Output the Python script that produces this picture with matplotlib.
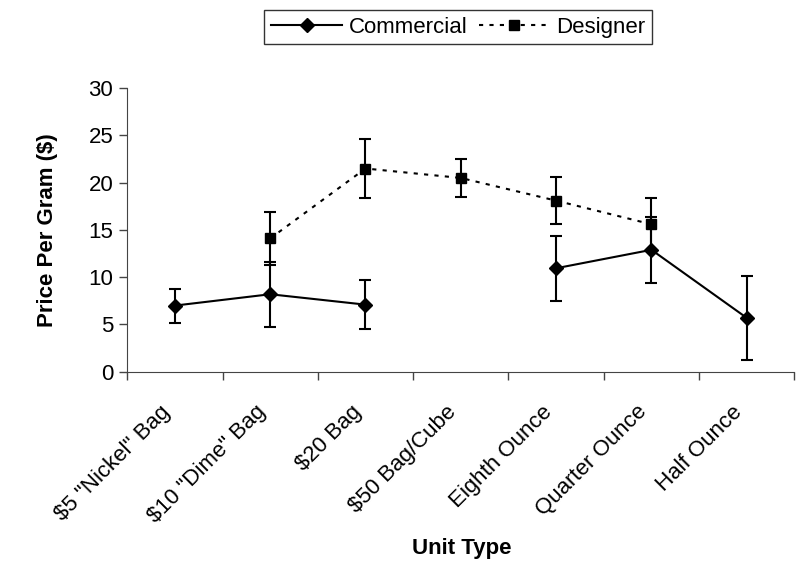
import numpy as np
import matplotlib
matplotlib.use("Agg")
import matplotlib.pyplot as plt
from matplotlib.lines import Line2D

plt.rcParams["font.family"] = ["Liberation Sans", "DejaVu Sans"]

# ------------------------------------------------------------
# Data
# ------------------------------------------------------------

units = ['$5 "Nickel" Bag', '$10 "Dime" Bag', '$20 Bag', '$50 Bag/Cube',
         'Eighth Ounce', 'Quarter Ounce', 'Half Ounce']

commercial = [7.0, 8.2, 7.1, np.nan, 10.95, 12.9, 5.7]
commercial_err = [1.8, 3.45, 2.6, np.nan, 3.45, 3.5, 4.45]

designer = [np.nan, 14.1, 21.5, 20.5, 18.1, 15.6, np.nan]
designer_err = [np.nan, 2.8, 3.1, 2.0, 2.5, 2.8, np.nan]

# ------------------------------------------------------------
# Plot
# ------------------------------------------------------------

fig = plt.figure(figsize=(8, 5.65), dpi=100)
ax = fig.add_axes([0.159, 0.342, 0.834, 0.502])

x = np.arange(len(units))
dotted = (0, (2, 3))

ax.errorbar(x, commercial, yerr=commercial_err, color="black", linewidth=1.5,
            marker="D", markersize=7, capsize=4, elinewidth=1.5, capthick=1.5)
ax.errorbar(x, designer, yerr=designer_err, color="black", linewidth=1.5,
            linestyle=dotted, marker="s", markersize=7, capsize=4,
            elinewidth=1.5, capthick=1.5)

ax.set_xlim(-0.5, len(units) - 0.5)
ax.set_ylim(0, 30)
ax.set_yticks(range(0, 31, 5))

ax.set_xticks(x)
ax.set_xticklabels(units, rotation=45, ha="right", va="bottom",
                   rotation_mode="anchor", fontsize=16)
ax.tick_params(axis="x", length=0, pad=32)
ax.set_xticks(np.arange(-0.5, len(units), 1), minor=True)
ax.tick_params(axis="x", which="minor", length=6, direction="out", width=1)
ax.tick_params(axis="y", labelsize=16, length=6, width=1, direction="out",
               pad=4)

ax.spines["top"].set_visible(False)
ax.spines["right"].set_visible(False)
ax.spines["left"].set_color("#444444")
ax.spines["bottom"].set_color("#444444")
ax.tick_params(which="both", color="#444444")

ax.set_ylabel("Price Per Gram ($)", fontsize=16, fontweight="bold",
              labelpad=22)
fig.text(0.577, 0.03, "Unit Type", fontsize=16, fontweight="bold",
         ha="center", va="center")

handles = [
    Line2D([], [], color="black", linewidth=1.5, marker="D", markersize=7),
    Line2D([], [], color="black", linewidth=1.5, linestyle=dotted,
           marker="s", markersize=7),
]
leg = fig.legend(handles, ["Commercial", "Designer"], loc="center",
                 bbox_to_anchor=(0.573, 0.952), ncol=2, fontsize=16,
                 numpoints=1, handlelength=3.2, columnspacing=0.5,
                 handletextpad=0.3, frameon=True, fancybox=False,
                 borderpad=0.3)
leg.get_frame().set_edgecolor("black")
leg.get_frame().set_linewidth(1)

fig.savefig("out.png", dpi=100)
